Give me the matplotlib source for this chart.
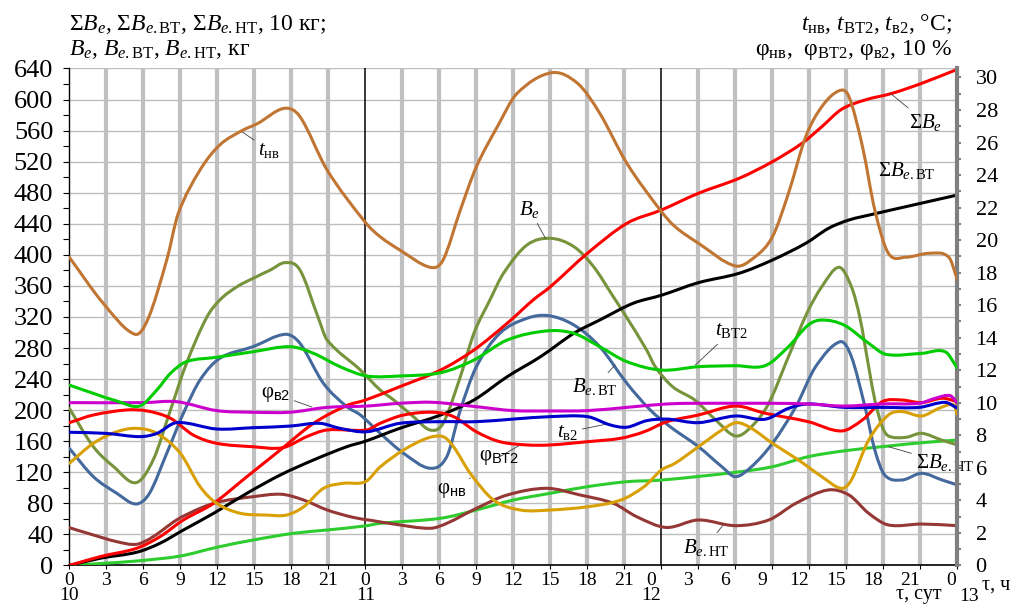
import numpy as np
import matplotlib
matplotlib.use('Agg')
import matplotlib.pyplot as plt
from matplotlib.path import Path
from matplotlib.patches import PathPatch
from matplotlib.ticker import MultipleLocator
import matplotlib.transforms as mtransforms

plt.rcParams['font.family'] = ['Liberation Serif', 'DejaVu Serif']
plt.rcParams['mathtext.fontset'] = 'custom'
plt.rcParams['mathtext.rm'] = 'Liberation Serif'
plt.rcParams['mathtext.it'] = 'Liberation Serif:italic'
plt.rcParams['mathtext.bf'] = 'Liberation Serif:bold'
plt.rcParams['mathtext.sf'] = 'Liberation Sans'

# ---------------- data (hours from day 10, 0 h) ----------------
# left axis: sums (10 kg) and hourly values (kg)
sum_be_h = [0, 2.5, 5.45, 7.35, 9.25, 11.7, 14.4, 17.1, 19.8, 22.5, 24, 26.8, 30.1, 32.8, 35.5, 37.6, 39, 42, 45.2,
            48, 51, 54.3, 57, 59.4, 61, 62.6, 64.5, 66.7, 69.1, 72]
sum_be = [0, 11.4, 22.1, 37.1, 58.6, 80.1, 114.4, 148.7, 183.1, 206, 213, 230.3, 251.7, 277.5, 311.9, 341.9, 359, 402,
          440.6, 457.8, 479.3, 498.6, 520, 543.7, 565, 587.4, 599.4, 608, 620.9, 639]

sum_bevt_h = [0, 2.5, 5.45, 7.35, 9.25, 11.7, 14.4, 17.1, 19.8, 22.5, 24, 26.8, 30.1, 32.8, 35.5, 38.2, 40.9, 43,
              45.7, 48, 51, 54.3, 57, 59.7, 61.55, 63.2, 65.1, 67.8, 72]
sum_bevt = [0, 9.3, 17, 28.6, 45.7, 67.2, 93, 116.5, 135.9, 153, 160, 176.7, 193.8, 213.1, 243.1, 268.9, 299, 316.1,
            337.6, 348, 364.2, 376.3, 393.4, 414.9, 434.2, 444.9, 452.2, 462, 477.1]

sum_bent_h = [0, 2.5, 5.45, 9, 11.95, 14.9, 18.2, 20.9, 24, 25.2, 30.1, 33, 36, 39, 42, 45.2, 48, 54, 57, 59.9,
              62.9, 65.9, 69.1, 72]
sum_bent = [0, 2.5, 5.8, 12.2, 23.4, 32.8, 41.5, 45.7, 51, 54.3, 60.8, 71.5, 84.3, 93, 101.5, 107.9, 110, 120,
            127.2, 140.1, 147.8, 153, 158.1, 161.6]

be_h = [0, 1.95, 3.6, 5.4, 6.8, 8.2, 9.5, 11.1, 12.2, 13.6, 14.9, 16.3, 17.5, 18.7, 20.2, 20.9, 23.6, 25.2, 26.3,
        27.9, 29.25, 30.3, 31.7, 32.8, 34.1, 35.2, 37.1, 39, 40.9, 42.5, 44.1, 45.2, 46.8, 47.5, 48.9, 50.7, 52.4,
        54, 55.3, 56.7, 58.3, 59.8, 61, 62.4, 63.4, 64.1, 64.8, 65.3, 65.9, 66.4, 67.8, 69.1, 70.7, 72]
be = [202.4, 153, 127.2, 106.6, 135.9, 200.2, 260.3, 318.3, 341.9, 359, 369.8, 380.5, 390, 380.5, 318.3, 290.4,
      251.7, 226, 213.1, 191.6, 174.5, 183.1, 243.1, 299, 341.9, 376.3, 412.7, 421.3, 410.6, 384.8, 346.1, 319,
      277.5, 256, 230.3, 213.1, 187.4, 166.8, 178.8, 208.8, 268.9, 325, 359, 384, 359, 318.3, 256, 213.1, 178.8,
      166.8, 165, 170.2, 161.6, 155.2]

bevt_h = [0, 1.95, 3.85, 5.4, 6.5, 7.9, 9.25, 10.6, 12.2, 14.9, 17.5, 18.7, 20.6, 22.5, 23.6, 25.2, 27.1, 29.25,
          30.6, 31.7, 33.0, 34.9, 37.1, 38.85, 40.9, 43.0, 45.2, 47.1, 48.7, 51.0, 52.9, 54.0, 55.3, 57.0, 58.9,
          60.5, 62.5, 63.4, 64.5, 65.3, 66.1, 67.5, 69.1, 70.75, 72]
bevt = [150.9, 114.4, 93, 79.2, 93, 144.5, 196, 238.9, 266.8, 281.8, 297.7, 286.1, 234.6, 204.5, 193.8, 170.2,
        144.5, 125.2, 140.1, 200.2, 256, 299, 318.3, 321.7, 309.7, 281.8, 234.6, 200.2, 178.8, 153, 127.2, 114.4,
        127.2, 157.3, 204.5, 256, 288.2, 268.9, 204.5, 148.7, 116.5, 110.1, 118.7, 110.1, 103.7]

bent_h = [0, 1.95, 3.85, 5.45, 6.8, 8.7, 10.6, 12.2, 14.9, 17.2, 19.0, 20.9, 23.0, 24.5, 26.3, 29.25, 30.6, 33.0,
          35.5, 38.7, 41.4, 44.1, 46.0, 48.4, 51.0, 54.0, 56.7, 58.9, 61.5, 63.2, 64.8, 66.4, 69.1, 72]
bent = [48.7, 39.3, 30.7, 27.3, 37.1, 58.6, 73.6, 82.2, 88.6, 91.7, 84.3, 71.5, 62, 58, 53.4, 47.9, 54.3, 73.6,
        90.8, 99.4, 90.8, 80.1, 62.8, 49, 58.6, 51.3, 58.6, 80.1, 97.2, 90.8, 67.2, 52.2, 53.4, 51.3]

# right axis: temperatures (deg C) and humidities (10 %)
tnv_h = [0, 2.76, 5.33, 6.4, 7.9, 8.84, 10.6, 12.2, 14.0, 15.3, 17.4, 18.7, 20.9, 24.0, 25.2, 26.8, 29.25, 30.3,
         31.7, 33.0, 34.7, 36.3, 39.1, 41.2, 43.0, 45.2, 47.9, 49.1, 51.0, 54.0, 55.6, 57.0, 58.3, 59.7, 61.0,
         62.4, 63.2, 64.3, 65.3, 66.4, 67.8, 69.7, 71.3, 72]
tnv = [18.95, 16.11, 14.21, 15.19, 18.78, 21.65, 24.31, 25.85, 26.73, 27.18, 28.10, 27.59, 24.31, 21.09, 20.21,
       19.39, 18.33, 18.78, 21.85, 24.51, 26.97, 29.02, 30.29, 29.64, 27.80, 24.72, 21.85, 20.83, 19.81, 18.41,
       18.98, 20.21, 22.88, 26.36, 28.20, 29.18, 28.82, 25.74, 21.85, 19.19, 18.95, 19.19, 18.95, 17.55]

tvt2_h = [0, 1.95, 3.85, 5.7, 7.1, 8.2, 9.5, 11.95, 14.9, 17.9, 19.8, 21.95, 24.1, 26.8, 30.1, 32.8, 35.5, 38.7,
          40.9, 43.0, 45.2, 48, 51.0, 54, 56.4, 58.3, 59.9, 61.0, 62.8, 64.8, 66.2, 69.1, 71.0, 72]
tvt2 = [11.09, 10.58, 10.11, 9.80, 10.79, 11.81, 12.53, 12.80, 13.14, 13.45, 13.04, 12.22, 11.65, 11.65, 11.85,
        12.63, 13.86, 14.42, 14.27, 13.45, 12.53, 12.01, 12.22, 12.28, 12.28, 13.45, 14.78, 15.09, 14.78, 13.66,
        12.98, 13.04, 13.14, 12.12]

tv2_h = [0, 3.0, 5.7, 7.1, 8.7, 11.95, 14.9, 17.9, 20.3, 21.95, 24.1, 26.8, 30.1, 33.0, 36, 39, 42, 43.85, 45.2,
         46.8, 48.45, 51.0, 54, 56.4, 58.3, 59.9, 62.8, 65.9, 68.9, 71.0, 72]
tv2 = [8.19, 8.12, 7.92, 8.12, 8.78, 8.39, 8.47, 8.57, 8.74, 8.43, 8.22, 8.74, 8.84, 8.84, 9.00, 9.15, 9.15, 8.64,
       8.50, 8.90, 9.00, 8.78, 9.19, 8.99, 9.66, 9.93, 9.72, 9.72, 9.72, 10.03, 9.66]

fnv_h = [0, 1.95, 3.85, 5.45, 7.1, 9.0, 10.6, 11.95, 13.85, 16.0, 17.6, 19.0, 20.6, 22.2, 24, 25.2, 27.1, 29.0,
         30.3, 31.15, 32.5, 34.4, 36.55, 39, 42, 44.7, 46.6, 48.0, 49.1, 51, 52.9, 54.1, 55.3, 57.0, 59.1, 61.0,
         62.6, 63.4, 64.8, 66.4, 67.5, 69.1, 70.5, 71.7, 72]
fnv = [6.28, 7.51, 8.22, 8.43, 8.12, 6.90, 4.85, 3.82, 3.21, 3.10, 3.10, 3.61, 4.74, 5.05, 5.15, 6.06, 7.10, 7.82,
       7.92, 7.30, 5.67, 4.02, 3.41, 3.41, 3.61, 4.02, 4.85, 5.87, 6.28, 7.30, 8.33, 8.78, 8.43, 7.51, 6.49, 5.46,
       4.74, 5.26, 7.71, 9.25, 9.46, 9.19, 9.66, 9.87, 9.25]

fvt2_h = [0, 1.95, 4.65, 6.3, 8.2, 10.05, 11.95, 14.9, 17.3, 19.25, 20.9, 24.1, 25.2, 27.1, 29.5, 31.15, 33.0,
          34.9, 37.1, 39, 42, 44.7, 46.6, 48.45, 51, 54, 56.4, 59.9, 62.6, 64.3, 65.9, 67.5, 69.1, 70.75, 72]
fvt2 = [8.78, 9.25, 9.56, 9.50, 9.05, 8.02, 7.51, 7.30, 7.24, 7.92, 8.33, 8.33, 8.74, 9.25, 9.42, 9.15, 8.22,
        7.61, 7.41, 7.41, 7.61, 7.82, 8.22, 8.84, 9.25, 9.80, 9.36, 8.84, 8.27, 8.95, 10.07, 10.17, 10.01, 10.28,
        10.07]

fv2_h = [0, 6, 8.7, 11.95, 14.9, 17.9, 20.9, 24.1, 26.8, 29.5, 33, 36, 39, 42, 45.2, 48.45, 51, 54, 57, 59.9,
         62.8, 65.9, 68.9, 70.2, 71.4, 72]
fv2 = [10.01, 10.01, 10.07, 9.52, 9.42, 9.42, 9.72, 9.80, 9.97, 10.03, 9.76, 9.52, 9.50, 9.52, 9.72, 9.93, 9.97,
       9.97, 9.97, 9.93, 9.80, 9.93, 9.97, 10.28, 10.44, 9.97]

hour_ticks = list(range(0, 73, 3))
day_of_tick = ['10', '', '', '', '', '', '', '', '11', '', '', '', '', '', '', '', '12', '', '', '', '', '', '', '', '']
hour_labels = [str(h % 24) + ('\n' + d if d else '') for h, d in zip(hour_ticks, day_of_tick)]
last_day = '13'

# ---------------- drawing helpers ----------------
def smooth_curve(axis, xs, ys, color, lw=2.2, z=3):
    xs = np.asarray(xs, float)
    ys = np.asarray(ys, float)
    n = len(xs)
    m = np.empty(n)
    m[1:-1] = (ys[2:] - ys[:-2]) / (xs[2:] - xs[:-2])
    m[0] = (ys[1] - ys[0]) / (xs[1] - xs[0])
    m[-1] = (ys[-1] - ys[-2]) / (xs[-1] - xs[-2])
    verts = [(xs[0], ys[0])]
    codes = [Path.MOVETO]
    for i in range(n - 1):
        dx = xs[i + 1] - xs[i]
        verts += [(xs[i] + dx / 3, ys[i] + m[i] * dx / 3),
                  (xs[i + 1] - dx / 3, ys[i + 1] - m[i + 1] * dx / 3),
                  (xs[i + 1], ys[i + 1])]
        codes += [Path.CURVE4] * 3
    patch = PathPatch(Path(verts, codes), facecolor='none', edgecolor=color, lw=lw,
                      capstyle='round', joinstyle='round', zorder=z)
    axis.add_patch(patch)


fig = plt.figure(figsize=(10.1, 6.05), dpi=100)
ax = fig.add_axes([0.0686, 0.0653, 0.8794, 0.8215])
ax.set_xlim(0, 72)
ax.set_ylim(0, 640)
ax2 = ax.twinx()
ax2.set_ylim(0, 30.55)

# grid and vertical bars
ax.yaxis.set_major_locator(MultipleLocator(40))
ax.yaxis.set_minor_locator(MultipleLocator(20))
ax.grid(axis='y', which='major', color='#bdbdbd', lw=1.0, zorder=0)
ax.set_axisbelow(True)
for h in hour_ticks:
    if h % 24 == 0:
        if 0 < h < 72:
            ax.axvline(h, color='black', lw=1.1, zorder=1)
    else:
        ax.axvline(h, color='#c0c0c0', lw=3.0, zorder=0.8)

# spines and ticks
for s in ['top', 'right']:
    ax.spines[s].set_visible(False)
for s in ['top', 'left', 'bottom']:
    ax2.spines[s].set_visible(False)
ax.spines['left'].set_color('black')
ax.spines['left'].set_linewidth(1.0)
ax.spines['bottom'].set_color('black')
ax.spines['bottom'].set_linewidth(1.2)
ax2.spines['right'].set_color('#7f7f7f')
ax2.spines['right'].set_linewidth(3.0)

ax.tick_params(axis='y', which='both', direction='out', length=4.5, width=0.8, pad=7, labelsize=19)
ax.set_yticks(np.arange(0, 641, 40))
ax.set_xticks(hour_ticks)
ax.set_xticklabels(hour_labels)
ax.tick_params(axis='x', direction='out', length=3, width=0.8, pad=2.0, labelsize=14)
for lab in ax.get_xticklabels():
    lab.set_linespacing(0.8)
    lab.set_verticalalignment('top')

ax2.yaxis.set_major_locator(MultipleLocator(2))
ax2.yaxis.set_minor_locator(MultipleLocator(1))
ax2.set_yticks(np.arange(0, 31, 2))
ax2.tick_params(axis='y', which='both', direction='out', length=3, width=1.5, color='#7f7f7f', pad=10,
                labelsize=16)

# shift the hour labels of the third day slightly left, as in the original
for tick, h in zip(ax.xaxis.get_major_ticks(), hour_ticks):
    if h >= 48:
        dx = -6 if h == 72 else -10
        off = mtransforms.ScaledTranslation(dx / 100, 0, fig.dpi_scale_trans)
        tick.label1.set_transform(tick.label1.get_transform() + off)

# last day label and axis names
xt = ax.get_xaxis_transform()
ax.text(72.9, -0.063, last_day, transform=xt, ha='center', va='center', fontsize=14, clip_on=False)
ax.text(68.9, -0.059, 'τ, сут', transform=xt, ha='center', va='center', fontsize=14.5, clip_on=False)
ax.text(75.1, -0.040, 'τ, ч', transform=xt, ha='center', va='center', fontsize=14.5, clip_on=False)

# ---------------- curves ----------------
LW = 2.2
smooth_curve(ax, sum_bent_h, sum_bent, '#2ecc2e', LW)
smooth_curve(ax, bent_h, bent, '#953735', LW)
smooth_curve(ax, bevt_h, bevt, '#44699d', LW)
smooth_curve(ax, be_h, be, '#77933c', LW)
smooth_curve(ax, sum_bevt_h, sum_bevt, 'black', LW)
smooth_curve(ax, sum_be_h, sum_be, '#ff0000', LW)

smooth_curve(ax2, fnv_h, fnv, '#d9a005', LW)
smooth_curve(ax2, fvt2_h, fvt2, '#ff0000', LW)
smooth_curve(ax2, tv2_h, tv2, '#0000cc', LW)
smooth_curve(ax2, fv2_h, fv2, '#cc00cc', LW)
smooth_curve(ax2, tvt2_h, tvt2, '#00cc00', LW)
smooth_curve(ax2, tnv_h, tnv, '#c07533', LW)

# ---------------- curve labels ----------------
lead = dict(arrowstyle='-', color='#404040', lw=0.6, shrinkA=1, shrinkB=0)
FS = 15
labels = [
    ('$t_{\\mathrm{нв}}$', (13.98, 558.6), (16.2, 535), 'center'),
    ('$B_e$', (38.6, 421.3), (37.3, 459), 'center'),
    ('$B_{e\\mathrm{.ВТ}}$', (44.25, 258.2), (42.6, 229.9), 'center'),
    ('$t_{\\mathrm{ВТ2}}$', (50.75, 258.2), (53.7, 302), 'center'),
    ('$t_{\\mathrm{в2}}$', (43.6, 182.2), (40.4, 171.9), 'center'),
    ('φ$_{\\mathsf{ВТ2}}$', (36.55, 155.2), (34.85, 139.7), 'center'),
    ('φ$_{\\mathsf{нв}}$', (32.5, 112.7), (31.0, 97.2), 'center'),
    ('φ$_{\\mathsf{в2}}$', (19.66, 204.1), (16.7, 220.8), 'center'),
    ('$B_{e\\mathrm{.НТ}}$', (53.0, 52.2), (51.6, 23.8), 'center'),
    ('Σ$B_{e\\mathrm{.НТ}}$', (66.4, 153.0), (68.6, 132), 'left'),
    ('Σ$B_e$', (66.56, 608), (69.4, 571), 'center'),
]
for txt, xy, xyt, ha in labels:
    ax.annotate(txt, xy=xy, xytext=xyt, textcoords='data', ha=ha, va='center', fontsize=FS,
                arrowprops=lead, annotation_clip=False, zorder=6)
ax.text(67.9, 509, 'Σ$B_{e\\mathrm{.ВТ}}$', ha='center', va='center', fontsize=FS, zorder=6)

# ---------------- axis titles ----------------
TS = 17
fig.text(0.0683, 1 - 30 / 605, 'Σ$B_e$, Σ$B_{e\\mathrm{.ВТ}}$, Σ$B_{e\\mathrm{.НТ}}$, 10 кг;',
         ha='left', va='baseline', fontsize=TS)
fig.text(0.0683, 1 - 55 / 605, '$B_e$, $B_{e\\mathrm{.ВТ}}$, $B_{e\\mathrm{.НТ}}$, кг',
         ha='left', va='baseline', fontsize=TS)
fig.text(0.9426, 1 - 30 / 605, '$t_{\\mathrm{нв}}$, $t_{\\mathrm{ВТ2}}$, $t_{\\mathrm{в2}}$, °C;',
         ha='right', va='baseline', fontsize=TS)
fig.text(0.9426, 1 - 55 / 605, 'φ$_{\\mathrm{нв}}$,  φ$_{\\mathrm{ВТ2}}$, φ$_{\\mathrm{в2}}$, 10 %',
         ha='right', va='baseline', fontsize=TS)

fig.savefig('out.png', dpi=100)
